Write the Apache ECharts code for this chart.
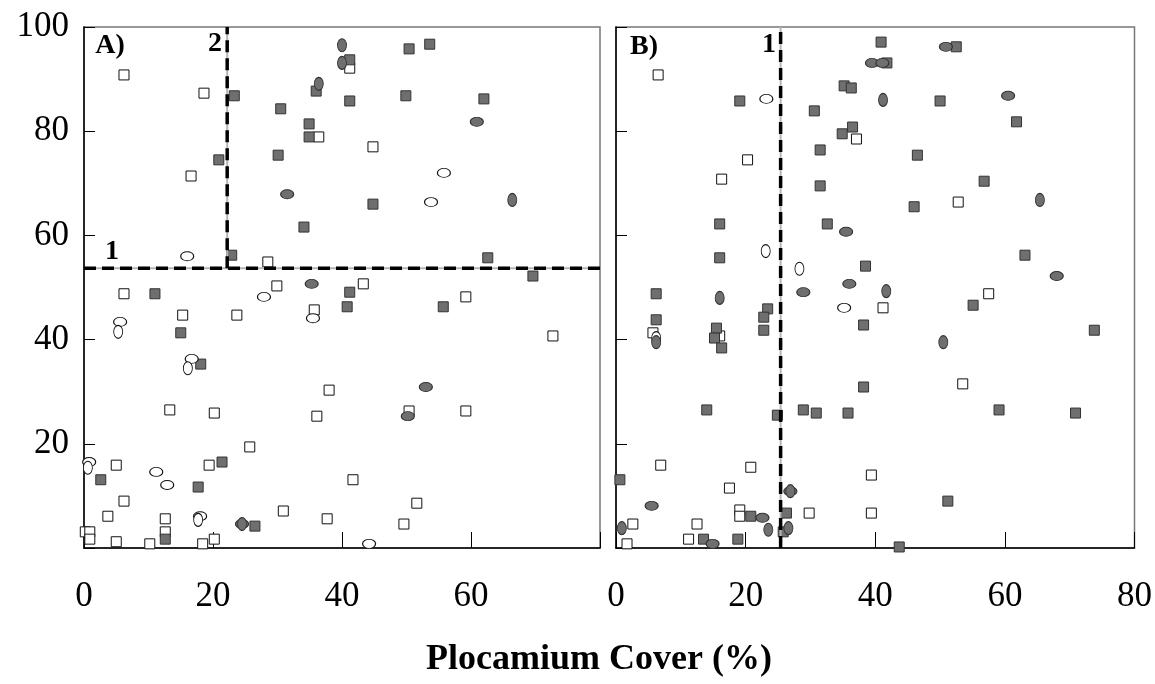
<!DOCTYPE html>
<html>
<head>
<meta charset="utf-8">
<script src="https://cdn.jsdelivr.net/npm/echarts@6/dist/echarts.min.js"></script>
<style>
  html, body { margin: 0; padding: 0; background: #fff; }
  #chart { width: 1155px; height: 684px; }
</style>
</head>
<body>
<div id="chart"></div>
<script>
// axis ticks
const xTicks = [0, 20, 40, 60, 80];
const yTicks = [0, 20, 40, 60, 80, 100];

// panel A: [Plocamium cover, y]
const aOpenSquare = [[6.2,90.8],[18.6,87.3],[36.4,78.9],[16.6,71.4],[28.5,54.9],[29.9,50.3],[41.2,92.1],[44.8,77.0],[43.3,50.7],[6.2,48.8],[35.7,45.7],[15.3,44.7],[23.7,44.7],[38.0,30.3],[13.3,26.5],[20.2,25.9],[36.1,25.3],[25.7,19.4],[5.0,15.9],[19.4,15.9],[6.2,9.0],[3.7,6.1],[12.6,5.6],[30.9,7.1],[37.7,5.6],[0.2,3.1],[0.9,3.1],[0.9,1.7],[5.0,1.2],[10.2,0.8],[12.6,3.1],[18.4,0.8],[20.2,1.7],[59.2,48.2],[72.7,40.7],[50.4,26.3],[59.2,26.3],[41.7,13.1],[51.6,8.6],[49.6,4.6]];
const aFilledSquare = [[23.3,86.8],[36.0,87.7],[30.5,84.3],[34.9,81.4],[34.9,78.9],[20.9,74.5],[30.1,75.4],[34.1,61.6],[22.9,56.2],[41.2,93.7],[50.4,95.8],[53.6,96.7],[41.2,85.8],[49.9,86.8],[62.0,86.2],[44.8,66.0],[62.6,55.7],[69.6,52.2],[41.2,49.1],[11.0,48.8],[15.0,41.3],[18.1,35.3],[21.4,16.5],[2.6,13.1],[17.7,11.7],[26.5,4.2],[12.6,1.7],[40.8,46.3],[55.7,46.3]];
const aOpenEllipseH = [[16.0,56.0],[55.8,72.0],[53.8,66.4],[27.9,48.2],[35.5,44.1],[5.6,43.4],[16.7,36.3],[0.8,16.5],[11.2,14.6],[12.9,12.1],[18.0,6.1],[44.2,0.8]];
const aOpenEllipseV = [[5.3,41.5],[16.1,34.5],[0.6,15.4],[17.7,5.4]];
const aFilledEllipseH = [[31.5,67.9],[35.3,50.7],[60.9,81.8],[53.0,30.9],[50.2,25.3],[24.5,4.6]];
const aFilledEllipseV = [[36.4,89.1],[40.0,96.5],[40.0,93.1],[66.4,66.8],[24.5,4.6]];
const aSplitY = 53.7;
const aSplitX = 22.2;

// panel B
const bOpenSquare = [[6.5,90.8],[20.3,74.5],[37.1,78.5],[16.3,70.8],[52.8,66.4],[5.7,41.3],[16.0,40.7],[41.2,46.1],[57.5,48.8],[53.5,31.5],[6.9,15.9],[20.8,15.5],[17.5,11.5],[19.1,7.3],[19.1,6.1],[29.8,6.7],[2.6,4.6],[12.5,4.6],[11.2,1.7],[1.7,0.8],[39.4,14.0],[39.4,6.7]];
const bFilledSquare = [[19.1,85.8],[35.2,88.7],[36.3,88.3],[30.6,83.9],[36.5,80.8],[34.9,79.5],[31.5,76.4],[31.5,69.5],[16.0,62.2],[32.6,62.2],[16.0,55.7],[38.5,54.1],[40.9,97.1],[52.5,96.2],[41.8,93.1],[50.0,85.8],[61.8,81.8],[46.5,75.4],[56.8,70.4],[46.0,65.5],[63.1,56.2],[6.2,48.8],[23.4,45.9],[22.8,44.3],[22.8,41.8],[38.2,42.8],[6.2,43.8],[15.5,42.2],[15.2,40.3],[16.3,38.4],[14.0,26.5],[24.9,25.5],[28.9,26.5],[30.9,25.9],[35.8,25.9],[38.2,30.9],[0.6,13.1],[20.8,6.1],[26.3,6.7],[25.8,3.1],[13.5,1.7],[18.8,1.7],[55.1,46.6],[73.8,41.8],[59.1,26.5],[70.9,25.9],[51.2,9.0],[43.7,0.2]];
const bOpenEllipseH = [[23.2,86.2],[35.2,46.1]];
const bOpenEllipseV = [[23.1,57.0],[28.3,53.6],[6.2,40.3]];
const bFilledEllipseH = [[35.5,60.7],[36.0,50.7],[50.9,96.2],[39.5,93.1],[41.1,93.1],[60.5,86.8],[68.0,52.2],[28.9,49.1],[5.5,8.1],[26.9,10.9],[22.6,5.8],[14.9,0.8]];
const bFilledEllipseV = [[41.2,86.0],[65.4,66.8],[41.7,49.3],[16.0,48.0],[6.2,39.5],[50.5,39.5],[26.9,10.9],[23.5,3.5],[26.6,3.8],[0.9,3.8]];
const bSplitX = 25.4;

const SERIF = '"Liberation Serif", "Times New Roman", serif';
const ELLIPSE = 'path://M0,1 C0,0.4477 0.4477,0 1,0 C1.5523,0 2,0.4477 2,1 C2,1.5523 1.5523,2 1,2 C0.4477,2 0,1.5523 0,1 Z';
const GRAY = '#6f6f6f';
const SQ = 10;
const ELL_H = [13, 9];
const ELL_V = [9, 13];

const chart = echarts.init(document.getElementById('chart'), null, { renderer: 'canvas' });

function xAxis(idx, showLast) {
  return {
    type: 'value', gridIndex: idx, min: xTicks[0], max: xTicks[xTicks.length - 1], interval: 20,
    axisLine: { lineStyle: { color: '#000', width: 1.5 } },
    axisTick: { inside: true, length: 16, lineStyle: { color: '#000' } },
    axisLabel: {
      color: '#000', fontFamily: SERIF, fontSize: 35, margin: 31,
      formatter: (v) => (!showLast && v === 80 ? '' : String(v)),
    },
    splitLine: { show: false },
  };
}

function yAxis(idx, showLabels) {
  return {
    type: 'value', gridIndex: idx, min: yTicks[0], max: yTicks[yTicks.length - 1], interval: 20,
    axisLine: { lineStyle: { color: '#000', width: 1.5 } },
    axisTick: { inside: true, length: 11, lineStyle: { color: '#000' } },
    axisLabel: {
      show: showLabels, color: '#000', fontFamily: SERIF, fontSize: 35, margin: 15,
      formatter: (v) => (v === 0 ? '' : String(v)),
    },
    splitLine: { show: false },
  };
}

function dots(idx, data, symbol, size, filled) {
  return {
    type: 'scatter', xAxisIndex: idx, yAxisIndex: idx, data, symbol, symbolSize: size,
    itemStyle: {
      color: filled ? GRAY : '#fff',
      borderColor: filled ? '#333' : '#111',
      borderWidth: 1,
      opacity: 1,
    },
    z: 3,
  };
}

function divider(idx, from, to) {
  // light grey rule with the black dashes over it
  const base = { type: 'line', xAxisIndex: idx, yAxisIndex: idx, data: [from, to], symbol: 'none', silent: true };
  return [
    { ...base, lineStyle: { color: '#b5b5b5', width: 2 }, z: 4 },
    { ...base, lineStyle: { color: '#000', width: 3.5, type: [12, 6] }, z: 5 },
  ];
}

function label(text, x, y, size) {
  return {
    type: 'text', x, y, z: 10,
    style: { text, font: `bold ${size}px ${SERIF}`, fill: '#000', textAlign: 'center', textVerticalAlign: 'middle' },
  };
}

chart.setOption({
  animation: false,
  backgroundColor: '#fff',
  grid: [
    { left: 84, top: 27, width: 516, height: 521, show: true, borderColor: '#777', borderWidth: 1.5, backgroundColor: 'transparent' },
    { left: 616, top: 27, width: 520, height: 521, show: true, borderColor: '#777', borderWidth: 1.5, backgroundColor: 'transparent' },
  ],
  xAxis: [xAxis(0, false), xAxis(1, true)],
  yAxis: [yAxis(0, true), yAxis(1, false)],
  series: [
    dots(0, aOpenSquare, 'rect', SQ, false),
    dots(0, aFilledSquare, 'rect', SQ, true),
    dots(0, aOpenEllipseH, ELLIPSE, ELL_H, false),
    dots(0, aOpenEllipseV, ELLIPSE, ELL_V, false),
    dots(0, aFilledEllipseH, ELLIPSE, ELL_H, true),
    dots(0, aFilledEllipseV, ELLIPSE, ELL_V, true),
    dots(1, bOpenSquare, 'rect', SQ, false),
    dots(1, bFilledSquare, 'rect', SQ, true),
    dots(1, bOpenEllipseH, ELLIPSE, ELL_H, false),
    dots(1, bOpenEllipseV, ELLIPSE, ELL_V, false),
    dots(1, bFilledEllipseH, ELLIPSE, ELL_H, true),
    dots(1, bFilledEllipseV, ELLIPSE, ELL_V, true),
    ...divider(0, [0, aSplitY], [80, aSplitY]),
    ...divider(0, [aSplitX, aSplitY], [aSplitX, 100]),
    ...divider(1, [bSplitX, 0], [bSplitX, 100]),
  ],
  graphic: [
    label('A)', 110, 46, 28),
    label('2', 215, 44, 28),
    label('1', 112, 252, 28),
    label('B)', 644, 47, 28),
    label('1', 769, 45, 28),
    label('Plocamium Cover (%)', 599, 660, 36),
  ],
});

window.addEventListener('resize', () => chart.resize());
</script>
</body>
</html>
